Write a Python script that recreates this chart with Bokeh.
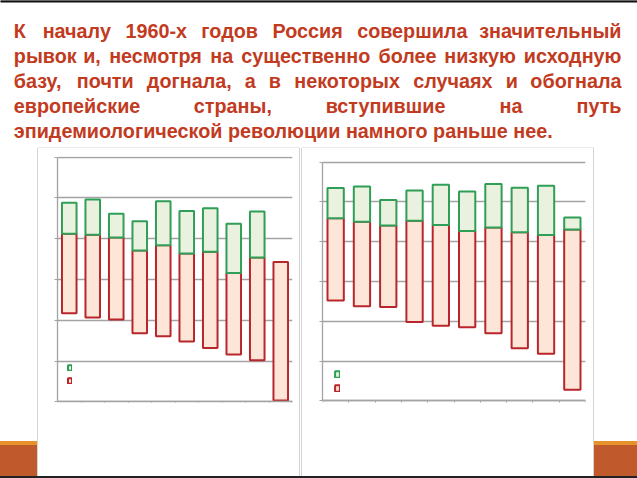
from bokeh.plotting import figure
from bokeh.layouts import column, row
from bokeh.models import Range1d, FixedTicker, Legend, LegendItem, Div
from bokeh.core.properties import value
from bokeh.embed import file_html
from bokeh.resources import INLINE

# ---------------- data (grid units) ----------------
positions = [1, 2, 3, 4, 5, 6, 7, 8, 9, 10]
y_ticks = [0, 1, 2, 3, 4, 5, 6]

left_red_bottom = [2.17, 2.07, 2.02, 1.68, 1.61, 1.48, 1.32, 1.16, 1.02, 0.03]
left_red_top = [4.12, 4.10, 4.03, 3.71, 3.84, 3.64, 3.68, 3.16, 3.54, 3.43]
left_green_top = [4.88, 4.96, 4.61, 4.43, 4.92, 4.68, 4.75, 4.37, 4.67, None]

right_red_bottom = [2.52, 2.38, 2.36, 1.98, 1.89, 1.85, 1.70, 1.32, 1.18, 0.28]
right_red_top = [4.59, 4.50, 4.41, 4.53, 4.42, 4.27, 4.36, 4.24, 4.17, 4.31]
right_green_top = [5.35, 5.39, 5.05, 5.29, 5.43, 5.26, 5.45, 5.36, 5.41, 4.61]

title_lines = [
    "К началу 1960-х годов Россия совершила значительный",
    "рывок и, несмотря на существенно более низкую исходную",
    "базу, почти догнала, а в некоторых случаях и обогнала",
    "европейские страны, вступившие на путь",
    "эпидемиологической революции намного раньше нее.",
]

TITLE_COLOR = "#c23b1f"
RED_LINE, RED_FILL = "#b8262b", "#fde6d8"
GREEN_LINE, GREEN_FILL = "#2f9e57", "#eaf1de"
GRID = "#a3a3a3"
PANEL_BORDER = "#d4d4d4"
ORANGE_LIGHT, ORANGE_DARK = "#e8922c", "#c0592b"

# approximate advance widths (1/1000 em) of a bold Arial-like face, used only to justify the title
ADV = {
    "а": 556, "б": 609, "в": 573, "г": 410, "д": 630, "е": 556, "ж": 813, "з": 501, "и": 604,
    "й": 604, "к": 510, "л": 604, "м": 719, "н": 604, "о": 611, "п": 604, "р": 611, "с": 556,
    "т": 490, "у": 556, "ф": 885, "х": 556, "ц": 615, "ч": 573, "ш": 854, "щ": 870, "ъ": 708,
    "ы": 802, "ь": 573, "э": 556, "ю": 823, "я": 583, "К": 722, "Р": 667, ",": 278, ".": 278,
    "-": 333, " ": 278,
}
FSPX = 19.8


def tw(s):
    return sum(ADV.get(ch, 556) for ch in s) * FSPX / 1000.0


def blank(w, h, xr, yr):
    p = figure(width=w, height=h, x_range=Range1d(*xr), y_range=Range1d(*yr),
               output_backend="svg", toolbar_location=None,
               x_axis_location=None, y_axis_location=None, min_border=0)
    p.grid.visible = False
    p.outline_line_color = None
    p.background_fill_color = "white"
    p.border_fill_color = "white"
    return p


# ---------------- title ----------------
TW, TH = 637, 148
LEFT_M, RIGHT_M = 13.3, 621.0
title = blank(TW, TH, (0, TW), (TH, 0))
title.quad(left=0, right=TW, top=0, bottom=1.5, color="#111111")
title.segment(x0=[37.5, 301.5], x1=[299.5, 593.5], y0=[147.5, 147.5], y1=[147.5, 147.5],
              line_color=PANEL_BORDER, line_width=1)
baselines = [30, 55, 80, 105, 130]
common = dict(text_font=value("Liberation Sans"), text_font_style="bold",
              text_font_size=f"{FSPX}px", text_color=TITLE_COLOR, text_baseline="alphabetic")
for i, (line, yb) in enumerate(zip(title_lines, baselines)):
    if i == len(title_lines) - 1:
        title.text(x=[LEFT_M], y=[yb], text=[line], text_align="left", **common)
        continue
    words = line.split(" ")
    widths = [tw(w) for w in words]
    gap = (RIGHT_M - LEFT_M - sum(widths)) / (len(words) - 1)
    xs, cur = [], LEFT_M
    for w in widths:
        xs.append(cur + w / 2.0)
        cur += w + gap
    title.text(x=[LEFT_M], y=[yb], text=[words[0]], text_align="left", **common)
    title.text(x=[RIGHT_M], y=[yb], text=[words[-1]], text_align="right", **common)
    title.text(x=xs[1:-1], y=[yb] * (len(words) - 2), text=words[1:-1], text_align="center", **common)


# ---------------- charts ----------------
ROW_H = 328
BT, BB = 8, 74   # common frame borders (frames are aligned across the row)


def chart(w, bl, br, y0, y1, red_bottom, red_top, green_top, leg_loc, gw, gh):
    p = figure(width=w, height=ROW_H, x_range=Range1d(0.5, 10.5), y_range=Range1d(y0, y1),
               output_backend="svg", toolbar_location=None,
               min_border_left=bl, min_border_right=br, min_border_top=BT, min_border_bottom=BB)
    p.background_fill_color = "white"
    p.border_fill_color = "white"
    p.outline_line_color = None
    p.xgrid.visible = False
    p.ygrid.ticker = FixedTicker(ticks=y_ticks)
    p.ygrid.grid_line_color = GRID
    p.ygrid.grid_line_width = 1.3

    p.xaxis.ticker = FixedTicker(ticks=[x - 0.5 for x in positions] + [positions[-1] + 0.5])
    p.xaxis.fixed_location = 0
    p.yaxis.ticker = FixedTicker(ticks=y_ticks)
    p.yaxis.bounds = (0, 6)
    for ax in (p.xaxis, p.yaxis):
        ax.major_label_text_color = None
        ax.major_label_text_font_size = "8px"
        ax.axis_line_color = GRID
        ax.axis_line_width = 1.3
        ax.major_tick_line_color = GRID
        ax.major_tick_in = 0
        ax.minor_tick_line_color = None
    p.xaxis.major_tick_out = 4
    p.yaxis.major_tick_out = 3

    r = p.vbar(x=positions, width=0.62, bottom=red_bottom, top=red_top,
               fill_color=RED_FILL, line_color=RED_LINE, line_width=2)
    gx = [x for x, g in zip(positions, green_top) if g is not None]
    gb = [b for b, g in zip(red_top, green_top) if g is not None]
    gt = [g for g in green_top if g is not None]
    g = p.vbar(x=gx, width=0.62, bottom=gb, top=gt,
               fill_color=GREEN_FILL, line_color=GREEN_LINE, line_width=2)

    legend = Legend(items=[LegendItem(label=" ", renderers=[g]), LegendItem(label=" ", renderers=[r])],
                    location=leg_loc, orientation="vertical", glyph_width=gw, glyph_height=gh,
                    spacing=6, padding=0, margin=0, border_line_color=None,
                    background_fill_alpha=0, label_text_font_size="1px", label_standoff=0,
                    label_width=0, label_height=gh)
    p.add_layout(legend)
    return p


# frame spans y 156..402 on the page; ranges chosen so 0 and 6 fall on each panel's own grid
left_chart = chart(261, 19, 7, -0.017, 6.017, left_red_bottom, left_red_top, left_green_top, (10, 18), 5, 7)
right_chart = chart(291, 20, 8, -0.043, 6.143, right_red_bottom, right_red_top, right_green_top, (12, 10), 6, 8)


def deco(w, h, bg):
    return Div(text="", width=w, height=h, margin=(0, 0, 0, 0), styles={"background": bg})


left_side = deco(38, ROW_H,
                 f"linear-gradient(to right, rgba(0,0,0,0) 37px, {PANEL_BORDER} 37px, {PANEL_BORDER} 38px), "
                 f"linear-gradient(to bottom, #ffffff 293px, {ORANGE_LIGHT} 293px, {ORANGE_LIGHT} 297px, "
                 f"{ORANGE_DARK} 297px, {ORANGE_DARK} 100%)")
gap = deco(3, ROW_H,
           f"linear-gradient(to right, {PANEL_BORDER} 0px, {PANEL_BORDER} 1px, #ffffff 1px, #ffffff 2px, "
           f"{PANEL_BORDER} 2px, {PANEL_BORDER} 3px)")
right_side = deco(44, ROW_H,
                  f"linear-gradient(to right, {PANEL_BORDER} 0px, {PANEL_BORDER} 1px, rgba(0,0,0,0) 1px), "
                  f"linear-gradient(to bottom, #ffffff 293px, {ORANGE_LIGHT} 293px, {ORANGE_LIGHT} 297px, "
                  f"{ORANGE_DARK} 297px, {ORANGE_DARK} 100%)")
bottom_strip = deco(637, 2, "#222222")

layout = column(title, row(left_side, left_chart, gap, right_chart, right_side, spacing=0),
                bottom_strip, spacing=0)

open("out.html", "w").write(file_html(layout, INLINE))
